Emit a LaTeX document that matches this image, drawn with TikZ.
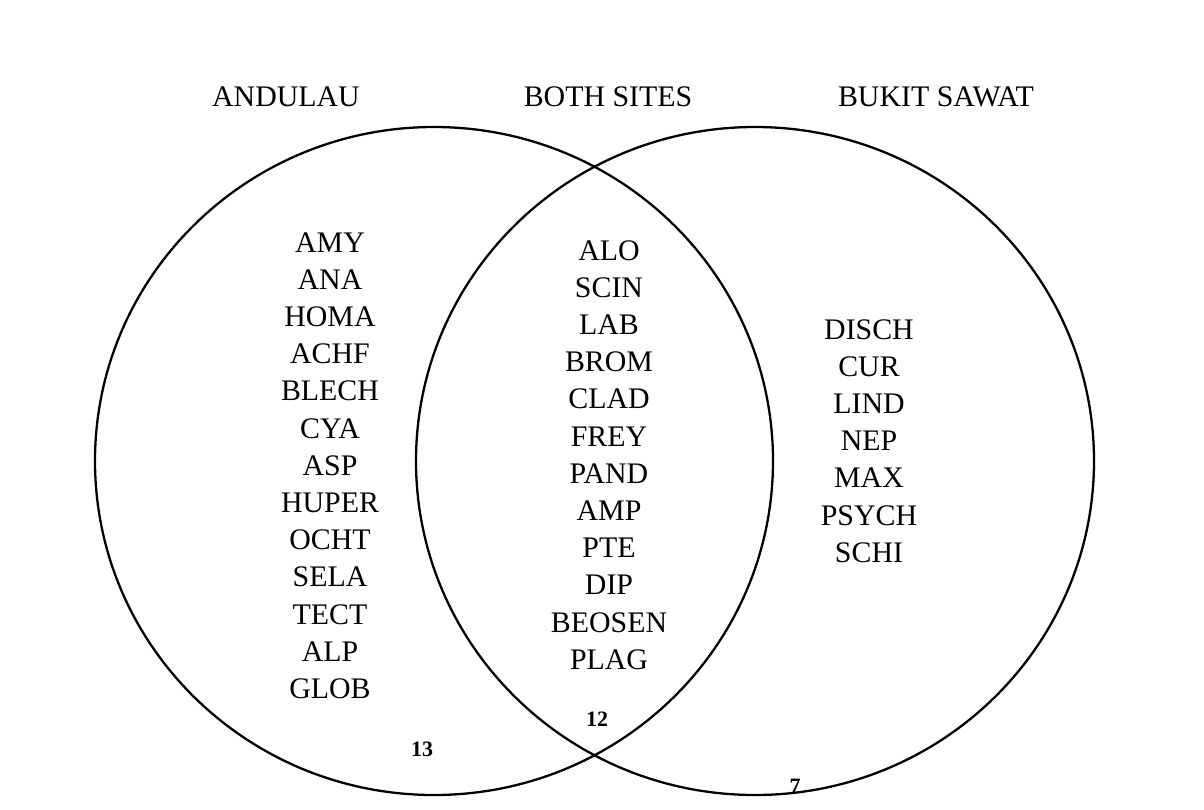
\documentclass[tikz,border=0pt]{standalone}
\usepackage{fontspec}
\setmainfont{Liberation Serif}
\usepackage{tikz}

\tikzset{
  site/.style={font=\fontsize{17}{20}\selectfont, text height=0.7em, text depth=0pt, inner sep=0pt},
  taxon/.style={font=\fontsize{17}{20}\selectfont, text height=0.7em, text depth=0pt, inner sep=0pt},
  tally/.style={font=\fontsize{12.5}{14}\selectfont\bfseries, text height=0.7em, text depth=0pt, inner sep=0pt},
  ring/.style={line width=1.3pt}
}

\begin{document}
\begin{tikzpicture}[x=0.02cm,y=-0.02cm]
 \useasboundingbox (0,0) rectangle (1204,809);
    % the two sites
    \draw[ring] (434,461) ellipse (339 and 334);
    \draw[ring] (755,461) ellipse (339 and 334);
    % headings
    \node[site] (andulau) at (286,100) {ANDULAU};
    \node[site] (both) at (608,100) {BOTH SITES};
    \node[site] (bukit) at (936,100) {BUKIT SAWAT};
    % andulau only
    \foreach \t [count=\i] in {AMY,ANA,HOMA,ACHF,BLECH,CYA,ASP,HUPER,OCHT,SELA,TECT,ALP,GLOB}
    \node[taxon] (a\i) at (330,246+37.2*\i-37.2) {\t};
    % shared
    \foreach \t [count=\i] in {ALO,SCIN,LAB,BROM,CLAD,FREY,PAND,AMP,PTE,DIP,BEOSEN,PLAG}
    \node[taxon] (s\i) at (609,254+37.2*\i-37.2) {\t};
    % bukit sawat only
    \foreach \t [count=\i] in {DISCH,CUR,LIND,NEP,MAX,PSYCH,SCHI}
    \node[taxon] (b\i) at (869,333+37.2*\i-37.2) {\t};
    % counts
    \node[tally] (na) at (422,750) {13};
    \node[tally] (ns) at (597,720) {12};
    \node[tally] (nb) at (795,787) {7};
  \end{tikzpicture}
\end{document}
